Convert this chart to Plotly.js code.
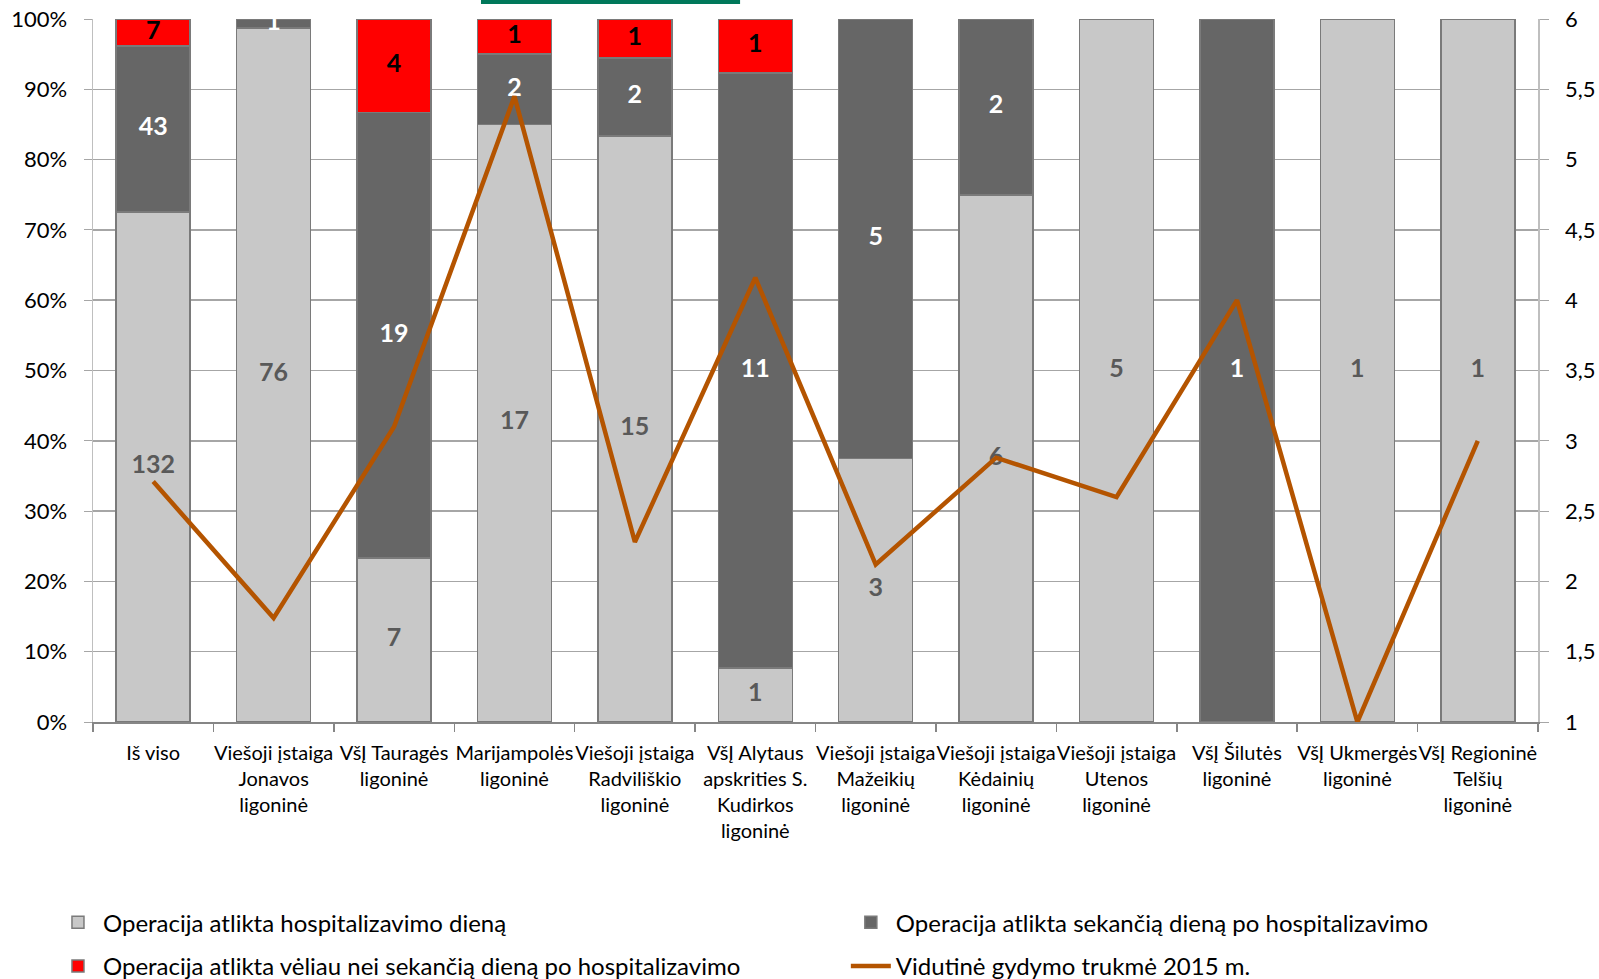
<!DOCTYPE html>
<html>
<head>
<meta charset="utf-8">
<script src="https://cdn.plot.ly/plotly-3.0.1.min.js"></script>
<style>html,body{margin:0;padding:0;background:#fff;}#chart{width:1599px;height:979px;}</style>
</head>
<body>
<div id="chart"></div>
<script>
const categories = [
  "Iš viso",
  "Viešoji įstaiga<br>Jonavos<br>ligoninė",
  "VšĮ Tauragės<br>ligoninė",
  "Marijampolės<br>ligoninė",
  "Viešoji įstaiga<br>Radviliškio<br>ligoninė",
  "VšĮ Alytaus<br>apskrities S.<br>Kudirkos<br>ligoninė",
  "Viešoji įstaiga<br>Mažeikių<br>ligoninė",
  "Viešoji įstaiga<br>Kėdainių<br>ligoninė",
  "Viešoji įstaiga<br>Utenos<br>ligoninė",
  "VšĮ Šilutės<br>ligoninė",
  "VšĮ Ukmergės<br>ligoninė",
  "VšĮ Regioninė<br>Telšių<br>ligoninė"
];
const sameDay = [132, 76, 7, 17, 15, 1, 3, 6, 5, 0, 1, 1];
const nextDay = [43, 1, 19, 2, 2, 11, 5, 2, 0, 1, 0, 0];
const laterDay = [7, 0, 4, 1, 1, 1, 0, 0, 0, 0, 0, 0];
const avgStay = [2.71, 1.74, 3.1, 5.45, 2.28, 4.16, 2.12, 2.88, 2.6, 4.0, 1.0, 3.0];

const seriesNames = [
  "Operacija atlikta hospitalizavimo dieną",
  "Operacija atlikta sekančią dieną po hospitalizavimo",
  "Operacija atlikta vėliau nei sekančią dieną po hospitalizavimo",
  "Vidutinė gydymo trukmė 2015 m."
];
const barColors = ["#c8c8c8", "#666666", "#ff0000"];
const labelColors = ["#595959", "#ffffff", "#000000"];
const lineColor = "#b45400";

const FONT = "Lato, 'Open Sans', sans-serif";
const series = [sameDay, nextDay, laterDay];
const totals = categories.map((c, i) => sameDay[i] + nextDay[i] + laterDay[i]);
const legendIds = ["legend", "legend2", "legend3", "legend4"];

const traces = [];
series.forEach((vals, k) => {
  traces.push({
    type: "bar",
    x: categories,
    y: vals,
    name: seriesNames[k],
    legend: legendIds[k],
    marker: {color: barColors[k], line: {color: "#7a7a7a", width: 1.5}},
    hoverinfo: "x+y+name"
  });
});
traces.push({
  type: "scatter",
  mode: "lines",
  x: categories,
  y: avgStay,
  yaxis: "y2",
  name: seriesNames[3],
  legend: legendIds[3],
  line: {color: lineColor, width: 4.5}
});
// value labels, placed at the middle of each stacked segment
series.forEach((vals, k) => {
  const xs = [], ys = [], txt = [];
  vals.forEach((v, i) => {
    if (!v) return;
    let before = 0;
    for (let j = 0; j < k; j++) before += series[j][i];
    xs.push(categories[i]);
    ys.push((before + v / 2) / totals[i] * 100);
    txt.push(String(v));
  });
  traces.push({
    type: "scatter",
    mode: "text",
    x: xs,
    y: ys,
    text: txt,
    textposition: "middle center",
    textfont: {family: FONT, size: 25, color: labelColors[k], weight: 700},
    showlegend: false,
    hoverinfo: "skip"
  });
});

function legendAt(x, y) {
  return {
    orientation: "h",
    x: x, xanchor: "left",
    y: y, yanchor: "top",
    font: {family: FONT, size: 24, color: "#000000"},
    bgcolor: "rgba(0,0,0,0)",
    itemwidth: 40
  };
}

const layout = {
  width: 1599,
  height: 979,
  paper_bgcolor: "#ffffff",
  plot_bgcolor: "#ffffff",
  margin: {l: 93, r: 61, t: 19, b: 257, autoexpand: false},
  separators: ", ",
  barmode: "stack",
  barnorm: "percent",
  bargap: 0.385,
  font: {family: FONT, color: "#000000"},
  showlegend: true,
  xaxis: {
    type: "category",
    range: [-0.5, 11.5],
    showgrid: false,
    showline: true,
    linecolor: "#868686",
    linewidth: 2,
    ticks: "outside",
    tickson: "boundaries",
    ticklen: 8,
    tickcolor: "#868686",
    tickwidth: 1.5,
    tickangle: 0,
    ticklabelstandoff: 12,
    tickfont: {family: FONT, size: 20, color: "#000000"},
    fixedrange: true
  },
  yaxis: {
    range: [0, 100],
    dtick: 10,
    ticksuffix: "%",
    showgrid: true,
    gridcolor: "#a6a6a6",
    gridwidth: 1.5,
    zeroline: false,
    showline: true,
    linecolor: "#bfbfbf",
    linewidth: 1.5,
    ticks: "outside",
    ticklen: 8,
    tickcolor: "#a6a6a6",
    ticklabelstandoff: 12,
    tickfont: {family: FONT, size: 22, color: "#000000"},
    fixedrange: true
  },
  yaxis2: {
    overlaying: "y",
    side: "right",
    range: [1, 6],
    dtick: 0.5,
    showgrid: false,
    zeroline: false,
    showline: true,
    linecolor: "#bfbfbf",
    linewidth: 1.5,
    ticks: "outside",
    ticklen: 9,
    tickcolor: "#a6a6a6",
    ticklabelstandoff: 12,
    tickfont: {family: FONT, size: 22, color: "#000000"},
    fixedrange: true
  },
  legend: legendAt(-0.0277, -0.2535),
  legend2: legendAt(0.521, -0.2535),
  legend3: legendAt(-0.0277, -0.3155),
  legend4: legendAt(0.521, -0.3155),
  shapes: [{
    type: "rect", xref: "paper", yref: "paper",
    x0: 0.2685, x1: 0.4478, y0: 1.0213, y1: 1.03,
    fillcolor: "#00785a", line: {width: 0}, layer: "above"
  }]
};

Plotly.newPlot("chart", traces, layout, {displayModeBar: false, staticPlot: true});
</script>
</body>
</html>
